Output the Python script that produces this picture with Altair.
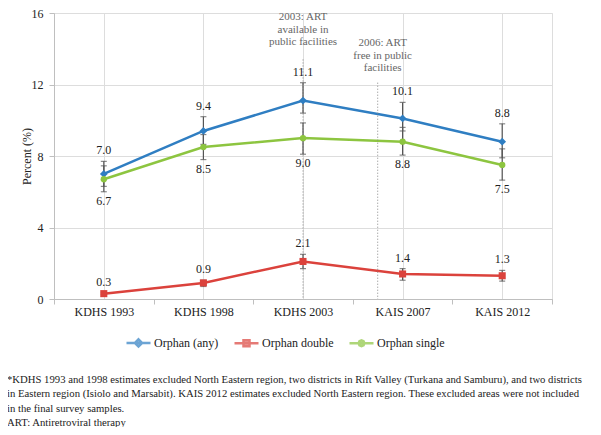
import json
import altair as alt
import pandas as pd

# ---------------- data ----------------
surveys = ["KDHS 1993", "KDHS 1998", "KDHS 2003", "KAIS 2007", "KAIS 2012"]
series_names = ["Orphan (any)", "Orphan double", "Orphan single"]
series_colors = ["#2F7EC2", "#DB423C", "#8DC540"]
series_shapes = ["diamond", "square", "circle"]
series_sizes = [60, 50, 40]

any_val = [7.0, 9.4, 11.1, 10.1, 8.8]
any_lo = [6.3, 8.65, 10.4, 9.4, 7.9]
any_hi = [7.7, 10.2, 12.1, 11.0, 9.8]

double_val = [0.3, 0.9, 2.1, 1.4, 1.3]
double_lo = [0.25, 0.7, 1.7, 1.05, 1.0]
double_hi = [0.35, 1.05, 2.5, 1.7, 1.6]

single_val = [6.7, 8.5, 9.0, 8.8, 7.5]
single_lo = [6.0, 7.8, 8.1, 8.05, 6.65]
single_hi = [7.45, 9.2, 9.85, 9.6, 8.4]

annot_text = ["2003:  ART\navailable in\npublic facilities",
              "2006:  ART\nfree in public\nfacilities"]
annot_x = [2.0, 2.8]
annot_y = [16.1, 14.64]
event_x = [2.0, 2.75]
event_top = [13.4, 12.1]

footnote_lines = [
    "*KDHS 1993 and 1998 estimates excluded North Eastern region, two districts in Rift Valley (Turkana and Samburu), and two districts",
    "in Eastern region (Isiolo and Marsabit).  KAIS 2012 estimates excluded North Eastern region.  These excluded areas were not included",
    "in the final survey samples.",
    "ART:  Antiretroviral therapy",
]

# ---------------- tables ----------------
rows = []
for name, vals, los, his in [
    (series_names[0], any_val, any_lo, any_hi),
    (series_names[1], double_val, double_lo, double_hi),
    (series_names[2], single_val, single_lo, single_hi),
]:
    for i, (v, lo, hi) in enumerate(zip(vals, los, his)):
        rows.append({"series": name, "idx": i, "value": v, "lo": lo, "hi": hi,
                     "label": f"{v:.1f}"})
df = pd.DataFrame(rows)

annot_df = pd.DataFrame({"x": annot_x, "y": annot_y, "text": annot_text})
event_df = pd.DataFrame({"x": event_x, "top": event_top, "bottom": [0, 0]})
legend_df = pd.DataFrame({"series": series_names, "x": [-5] * 3, "y": [0] * 3})
foot_df = pd.DataFrame({"text": ["\n".join(footnote_lines)]})

# ---------------- scales / helpers ----------------
xscale = alt.Scale(domain=[-0.5, 4.5], nice=False, zero=False)
yscale = alt.Scale(domain=[0, 16], nice=False)
FONT = "Liberation Serif, Times New Roman, DejaVu Serif, serif"

label_expr = json.dumps(surveys) + "[datum.value]"
label_axis = alt.Axis(values=[0, 1, 2, 3, 4], labelExpr=label_expr, ticks=False,
                      title=None, orient="bottom", labelPadding=7,
                      labelFontSize=12, labelColor="#222", labelFont=FONT,
                      domainColor="#BFBFBF")
tick_axis = alt.Axis(values=[-0.5, 0.5, 1.5, 2.5, 3.5, 4.5], labels=False,
                     ticks=True, tickSize=5, title=None, orient="bottom",
                     tickColor="#BFBFBF", domainColor="#BFBFBF")
y_axis = alt.Axis(values=[0, 4, 8, 12, 16], title="Percent (%)", tickSize=5,
                  labelPadding=6, titleX=-21, titleY=143, labelFontSize=12,
                  titleFontSize=12, titleFontWeight="normal", labelColor="#222",
                  titleColor="#222", labelFont=FONT, titleFont=FONT,
                  tickColor="#BFBFBF", domainColor="#BFBFBF", orient="left")


def X(field, axis=None):
    return alt.X(field, type="quantitative", scale=xscale, axis=axis)


def Y(field):
    return alt.Y(field, type="quantitative", scale=yscale, axis=y_axis)


base = alt.Chart(df)

line_layers = []
point_layers = []
for k, (name, col, shp, sz) in enumerate(zip(series_names, series_colors,
                                            series_shapes, series_sizes)):
    sub = base.transform_filter(alt.datum.series == name)
    line_layers.append(
        sub.mark_line(strokeWidth=2.5, color=col).encode(
            x=X("idx", label_axis if k == 0 else None), y=Y("value"))
    )
    point_layers.append(
        sub.mark_point(filled=True, shape=shp, size=sz, opacity=1, color=col)
        .encode(x=X("idx"), y=Y("value"))
    )

err_rule = base.mark_rule(color="#555555", strokeWidth=1.2).encode(
    x=X("idx"), y=Y("lo"), y2="hi")
err_lo = base.mark_tick(orient="horizontal", size=6, thickness=1.2,
                        color="#555555").encode(x=X("idx"), y=Y("lo"))
err_hi = base.mark_tick(orient="horizontal", size=6, thickness=1.2,
                        color="#555555").encode(x=X("idx"), y=Y("hi"))

labels_above = base.transform_filter(alt.datum.series != series_names[2]).mark_text(
    dy=-11, baseline="middle", fontSize=12, color="#222", font=FONT
).encode(x=X("idx"), y=Y("hi"), text="label:N")
labels_below = base.transform_filter(alt.datum.series == series_names[2]).mark_text(
    dy=9, baseline="middle", fontSize=12, color="#222", font=FONT
).encode(x=X("idx"), y=Y("lo"), text="label:N")

events = alt.Chart(event_df).mark_rule(color="#888888", strokeWidth=1,
                                       strokeDash=[1, 2]).encode(
    x=X("x", tick_axis), y=Y("top"), y2="bottom")

annots = alt.Chart(annot_df).mark_text(
    lineBreak="\n", baseline="top", align="center", fontSize=11,
    lineHeight=12.5, color="#666666", font=FONT
).encode(x=X("x"), y=Y("y"), text="text:N")

leg_props = dict(title=None, orient="none", legendX=71, legendY=316,
                 direction="horizontal", columns=3,
                 symbolSize=576, symbolStrokeWidth=2.5, labelFontSize=12,
                 labelOffset=2, columnPadding=10, padding=0, labelColor="#222",
                 labelFont=FONT)
shape_paths = [
    "M-1,0L1,0M0,-0.3L0.3,0L0,0.3L-0.3,0Z",
    "M-1,0L1,0M-0.25,-0.25L0.25,-0.25L0.25,0.25L-0.25,0.25Z",
    "M-1,0L1,0M0.24,0L0.17,0.17L0,0.24L-0.17,0.17L-0.24,0L-0.17,-0.17L0,-0.24L0.17,-0.17Z",
]
legend_layer = alt.Chart(legend_df).mark_point(
    clip=True, filled=True, size=576, strokeWidth=2.5
).encode(
    x=X("x"), y=Y("y"),
    fill=alt.Fill("series:N", scale=alt.Scale(domain=series_names, range=series_colors),
                  legend=alt.Legend(**leg_props)),
    stroke=alt.Stroke("series:N", scale=alt.Scale(domain=series_names, range=series_colors),
                      legend=alt.Legend(**leg_props)),
    shape=alt.Shape("series:N", scale=alt.Scale(domain=series_names, range=shape_paths),
                    legend=alt.Legend(**leg_props)),
)

footnote = alt.Chart(foot_df).mark_text(
    lineBreak="\n", align="left", baseline="top", fontSize=10.7, lineHeight=14.4,
    color="#222", font=FONT
).encode(x=alt.value(-47), y=alt.value(362), text="text:N")

chart = alt.layer(
    *line_layers, events, annots, err_rule, err_lo, err_hi, *point_layers,
    labels_above, labels_below, legend_layer, footnote
).resolve_axis(x="independent").properties(
    width=498, height=286,
    padding={"left": 46, "top": 5, "right": 41, "bottom": 128},
    autosize=alt.AutoSizeParams(type="none"),
).configure_view(stroke=None).configure_axis(grid=False).configure(
    font=FONT, background="white")

chart.save("out.html", embed_options={"renderer": "svg", "actions": False})
